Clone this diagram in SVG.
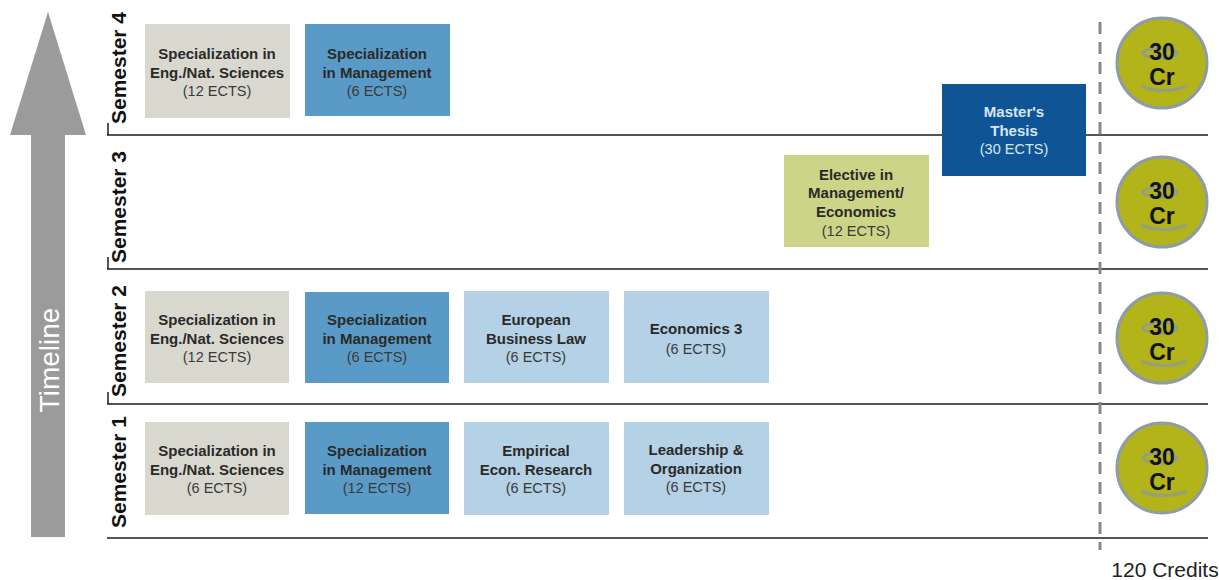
<svg xmlns="http://www.w3.org/2000/svg" width="1219" height="580" viewBox="0 0 1219 580">
<style>
.bg{fill:#ffffff}
.sem{font-family:"Liberation Sans",Arial,sans-serif;font-weight:bold;font-size:21px;fill:#111;text-anchor:middle}
.tl{font-family:"Liberation Sans",Arial,sans-serif;font-size:28px;fill:#ffffff;text-anchor:middle}
.t{font-family:"Liberation Sans",Arial,sans-serif;font-weight:bold;font-size:15px;fill:#2a2a2a;text-anchor:middle}
.e{font-family:"Liberation Sans",Arial,sans-serif;font-size:14.5px;fill:#3a3a3a;text-anchor:middle}
.tw{font-family:"Liberation Sans",Arial,sans-serif;font-weight:bold;font-size:15px;fill:#d6e6f4;text-anchor:middle}
.ew{font-family:"Liberation Sans",Arial,sans-serif;font-size:14.5px;fill:#d6e6f4;text-anchor:middle}
.grey{fill:#d9d8ce}
.mid{fill:#5a9ac6}
.light{fill:#b4d1e6}
.dark{fill:#0f5595}
.olive{fill:#ccd487}
.sep{stroke:#1e1e1e;stroke-width:1.5;fill:none}
.circ{fill:#b3b31a;stroke:#8e9ca8;stroke-width:3}
.ct{font-family:"Liberation Sans",Arial,sans-serif;font-weight:bold;font-size:23px;fill:#111;text-anchor:middle}
.deco{fill:none;stroke:#8a98a0;stroke-width:3;opacity:0.75}
.cred{font-family:"Liberation Sans",Arial,sans-serif;font-size:21px;fill:#222;text-anchor:middle}
</style>
<rect class="bg" x="0" y="0" width="1219" height="580"/>

<g id="timeline">
<polygon points="48,12 86,135 65,135 65,537 31,537 31,135 10,135" fill="#9b9b9b"/>
<text class="tl" transform="translate(59,360) rotate(-90)">Timeline</text>
</g>

<g id="grid">
<path class="sep" d="M107,135H1208M107,269H1208M107,404H1208M107,538H1208M108,123V135M108,257V269M108,392V404"/>
<text class="sem" transform="translate(126,68) rotate(-90)">Semester 4</text>
<text class="sem" transform="translate(126,207) rotate(-90)">Semester 3</text>
<text class="sem" transform="translate(126,341) rotate(-90)">Semester 2</text>
<text class="sem" transform="translate(126,472) rotate(-90)">Semester 1</text>
</g>

<g id="connectors">
<line x1="1100" y1="22" x2="1100" y2="550" stroke="#8a8a8a" stroke-width="3" stroke-dasharray="12 8"/>
</g>

<g id="s4-eng">
<rect class="grey" x="145" y="24" width="145" height="94"/>
<text class="t" x="217" y="59">Specialization in</text>
<text class="t" x="217" y="78">Eng./Nat. Sciences</text>
<text class="e" x="217" y="96">(12 ECTS)</text>
</g>
<g id="s4-mgmt">
<rect class="mid" x="305" y="24" width="145" height="92"/>
<text class="t" x="377" y="59">Specialization</text>
<text class="t" x="377" y="78">in Management</text>
<text class="e" x="377" y="96">(6 ECTS)</text>
</g>

<g id="thesis">
<rect class="dark" x="942" y="84" width="144" height="92"/>
<text class="tw" x="1014" y="117">Master's</text>
<text class="tw" x="1014" y="136">Thesis</text>
<text class="ew" x="1014" y="154">(30 ECTS)</text>
</g>

<g id="s3-elective">
<rect class="olive" x="784" y="155" width="145" height="92"/>
<text class="t" x="856" y="180">Elective in</text>
<text class="t" x="856" y="198">Management/</text>
<text class="t" x="856" y="217">Economics</text>
<text class="e" x="856" y="236">(12 ECTS)</text>
</g>

<g id="s2-eng">
<rect class="grey" x="145" y="291" width="144" height="92"/>
<text class="t" x="217" y="325">Specialization in</text>
<text class="t" x="217" y="344">Eng./Nat. Sciences</text>
<text class="e" x="217" y="362">(12 ECTS)</text>
</g>
<g id="s2-mgmt">
<rect class="mid" x="305" y="292" width="144" height="91"/>
<text class="t" x="377" y="325">Specialization</text>
<text class="t" x="377" y="344">in Management</text>
<text class="e" x="377" y="362">(6 ECTS)</text>
</g>
<g id="s2-law">
<rect class="light" x="464" y="291" width="145" height="92"/>
<text class="t" x="536" y="325">European</text>
<text class="t" x="536" y="344">Business Law</text>
<text class="e" x="536" y="362">(6 ECTS)</text>
</g>
<g id="s2-econ3">
<rect class="light" x="624" y="291" width="145" height="92"/>
<text class="t" x="696" y="334">Economics 3</text>
<text class="e" x="696" y="354">(6 ECTS)</text>
</g>

<g id="s1-eng">
<rect class="grey" x="145" y="422" width="144" height="93"/>
<text class="t" x="217" y="456">Specialization in</text>
<text class="t" x="217" y="475">Eng./Nat. Sciences</text>
<text class="e" x="217" y="493">(6 ECTS)</text>
</g>
<g id="s1-mgmt">
<rect class="mid" x="305" y="422" width="144" height="92"/>
<text class="t" x="377" y="456">Specialization</text>
<text class="t" x="377" y="475">in Management</text>
<text class="e" x="377" y="493">(12 ECTS)</text>
</g>
<g id="s1-empirical">
<rect class="light" x="464" y="422" width="145" height="93"/>
<text class="t" x="536" y="456">Empirical</text>
<text class="t" x="536" y="475">Econ. Research</text>
<text class="e" x="536" y="493">(6 ECTS)</text>
</g>
<g id="s1-leadership">
<rect class="light" x="624" y="422" width="145" height="93"/>
<text class="t" x="696" y="455">Leadership &amp;</text>
<text class="t" x="696" y="474">Organization</text>
<text class="e" x="696" y="492">(6 ECTS)</text>
</g>

<g id="cr4">
<circle class="circ" cx="1162" cy="63" r="45"/>
<ellipse class="deco" cx="1160" cy="53" rx="17" ry="5"/>
<path class="deco" d="M1141,86 Q1163,95 1187,86"/>
<text class="ct" x="1162" y="60">30</text>
<text class="ct" x="1162" y="85">Cr</text>
</g>
<g id="cr3">
<circle class="circ" cx="1162" cy="202" r="45"/>
<ellipse class="deco" cx="1160" cy="192" rx="17" ry="5"/>
<path class="deco" d="M1141,225 Q1163,234 1187,225"/>
<text class="ct" x="1162" y="199">30</text>
<text class="ct" x="1162" y="224">Cr</text>
</g>
<g id="cr2">
<circle class="circ" cx="1162" cy="338" r="45"/>
<ellipse class="deco" cx="1160" cy="328" rx="17" ry="5"/>
<path class="deco" d="M1141,361 Q1163,370 1187,361"/>
<text class="ct" x="1162" y="335">30</text>
<text class="ct" x="1162" y="360">Cr</text>
</g>
<g id="cr1">
<circle class="circ" cx="1162" cy="468" r="45"/>
<ellipse class="deco" cx="1160" cy="458" rx="17" ry="5"/>
<path class="deco" d="M1141,491 Q1163,500 1187,491"/>
<text class="ct" x="1162" y="465">30</text>
<text class="ct" x="1162" y="490">Cr</text>
</g>

<g id="total">
<text class="cred" x="1165" y="577">120 Credits</text>
</g>
</svg>
